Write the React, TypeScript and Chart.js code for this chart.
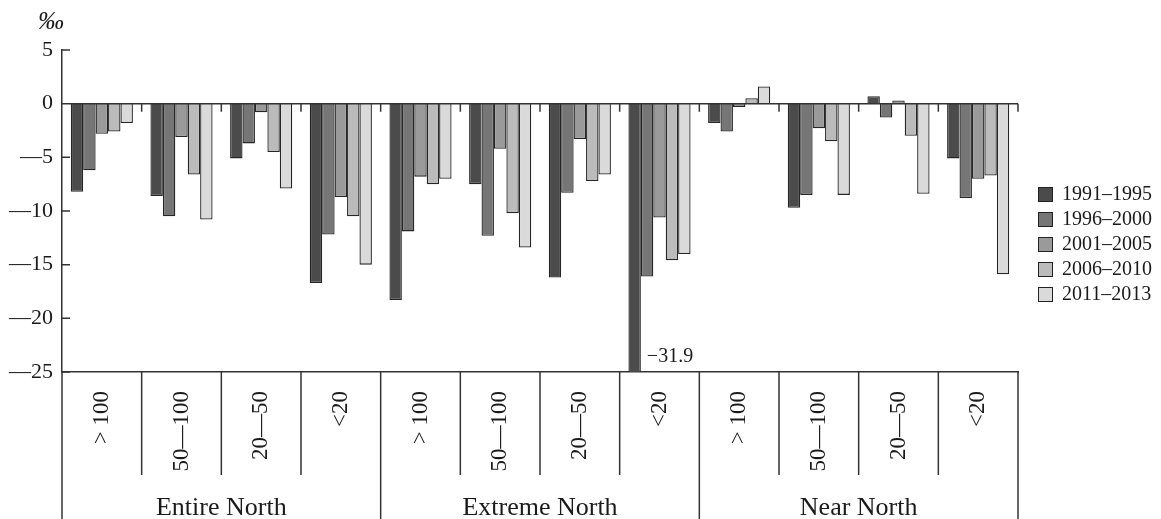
import React, { useEffect, useRef } from "react";
import { Chart, registerables } from "chart.js";

Chart.register(...registerables);

const SERIF = '"Liberation Serif", "Times New Roman", serif';

// Size categories of settlements within each region
const categories = ["> 100", "50—100", "20—50", "<20", "> 100", "50—100", "20—50", "<20", "> 100", "50—100", "20—50", "<20"];
const regions = ["Entire North", "Extreme North", "Near North"];
const periods = ["1991–1995", "1996–2000", "2001–2005", "2006–2010", "2011–2013"];

// Values, ‰
const s1991_1995 = [-8.2, -8.6, -5.1, -16.7, -18.3, -7.5, -16.2, -31.9, -1.8, -9.7, 0.7, -5.1];
const s1996_2000 = [-6.2, -10.5, -3.7, -12.2, -11.9, -12.3, -8.3, -16.1, -2.6, -8.5, -1.3, -8.8];
const s2001_2005 = [-2.8, -3.1, -0.8, -8.7, -6.8, -4.2, -3.3, -10.6, -0.3, -2.3, 0.3, -7.0];
const s2006_2010 = [-2.6, -6.6, -4.5, -10.5, -7.5, -10.2, -7.2, -14.6, 0.5, -3.5, -3.0, -6.7];
const s2011_2013 = [-1.8, -10.8, -7.9, -15.0, -7.0, -13.4, -6.6, -14.0, 1.6, -8.5, -8.4, -15.9];

const seriesList = [s1991_1995, s1996_2000, s2001_2005, s2006_2010, s2011_2013];
const colors = ["#4b4b4b", "#767676", "#9a9a9a", "#bbbbbb", "#dadada"];

const yMin = -25;
const yMax = 5;
const yStep = 5;

const fmtTick = (v: number) => (v < 0 ? "—" + Math.abs(v) : String(v));

const decorPlugin = {
  id: "decor",
  afterDatasetsDraw(chart: any) {
    const { ctx, chartArea: ca, scales } = chart;
    const y = scales.y;
    const n = categories.length;
    const gw = (ca.right - ca.left) / n;
    const y0 = y.getPixelForValue(0);
    const bottom = chart.height;
    ctx.save();
    ctx.strokeStyle = "#333";
    ctx.lineWidth = 1.5;
    ctx.beginPath();
    // zero line with small downward ticks at category boundaries
    ctx.moveTo(ca.left, y0);
    ctx.lineTo(ca.right, y0);
    for (let k = 1; k <= n; k++) {
      const xx = ca.left + k * gw;
      ctx.moveTo(xx, y0);
      ctx.lineTo(xx, y0 + 8);
    }
    // inward y ticks
    y.ticks.forEach((t: any) => {
      const py = y.getPixelForValue(t.value);
      ctx.moveTo(ca.left, py);
      ctx.lineTo(ca.left + 8, py);
    });
    // category table lines
    for (let k = 0; k <= n; k++) {
      const xx = ca.left + k * gw;
      ctx.moveTo(xx, ca.bottom);
      ctx.lineTo(xx, k % 4 === 0 ? bottom : ca.bottom + 103);
    }
    ctx.stroke();

    ctx.fillStyle = "#1a1a1a";
    // region labels
    ctx.font = `26px ${SERIF}`;
    ctx.textAlign = "center";
    ctx.textBaseline = "alphabetic";
    regions.forEach((r, i) => {
      ctx.fillText(r, ca.left + (i * 4 + 2) * gw, bottom - 4);
    });

    // label for clipped bar
    ctx.font = `20px ${SERIF}`;
    ctx.textAlign = "left";
    chart.data.datasets.forEach((ds: any, di: number) => {
      const meta = chart.getDatasetMeta(di);
      ds.data.forEach((v: number, i: number) => {
        if (v < yMin) {
          const el = meta.data[i];
          ctx.fillText("−" + Math.abs(v).toFixed(1), el.x + el.width / 2 + 6, ca.bottom - 10);
        }
      });
    });

    // unit
    ctx.font = `italic 26px ${SERIF}`;
    ctx.fillText("‰", 38, 29);

    // legend
    ctx.font = `20px ${SERIF}`;
    ctx.textBaseline = "middle";
    ctx.lineWidth = 1;
    periods.forEach((p, i) => {
      const cy = 194 + i * 25;
      ctx.fillStyle = colors[i];
      ctx.fillRect(1038, cy - 7, 14, 14);
      ctx.strokeStyle = "#222";
      ctx.strokeRect(1038.5, cy - 6.5, 14, 14);
      ctx.fillStyle = "#1a1a1a";
      ctx.fillText(p, 1062, cy + 1);
    });
    ctx.restore();
  },
};

export default function App() {
  const ref = useRef<HTMLCanvasElement>(null);
  useEffect(() => {
    document.body.style.margin = "0";
    const canvas = ref.current;
    if (!canvas) return;
    const chart = new Chart(canvas, {
      type: "bar",
      data: {
        labels: categories,
        datasets: seriesList.map((s, i) => ({
          label: periods[i],
          data: s,
          backgroundColor: colors[i],
          borderColor: "#262626",
          borderWidth: 1.3,
          categoryPercentage: 0.78,
          barPercentage: 1.0,
        })),
      },
      options: {
        responsive: false,
        animation: false,
        layout: { padding: { top: 50, right: 143, left: 0, bottom: 0 } },
        plugins: { legend: { display: false }, tooltip: { enabled: false } },
        scales: {
          x: {
            grid: { display: false, drawTicks: false },
            border: { display: true, color: "#333", width: 1.5 },
            ticks: {
              autoSkip: false,
              minRotation: 90,
              maxRotation: 90,
              padding: 19,
              color: "#1a1a1a",
              font: { family: SERIF, size: 23 },
            },
            afterFit: (scale: any) => {
              scale.height = 147;
            },
          },
          y: {
            min: yMin,
            max: yMax,
            grid: { display: false, drawTicks: false },
            border: { display: true, color: "#333", width: 1.5 },
            ticks: {
              stepSize: yStep,
              padding: 9,
              color: "#1a1a1a",
              font: { family: SERIF, size: 22 },
              callback: (v: any) => fmtTick(Number(v)),
            },
            afterFit: (scale: any) => {
              scale.width = 62;
            },
          },
        },
      },
      plugins: [decorPlugin],
    });
    return () => chart.destroy();
  }, []);
  return <canvas ref={ref} width={1161} height={519} style={{ display: "block" }} />;
}
